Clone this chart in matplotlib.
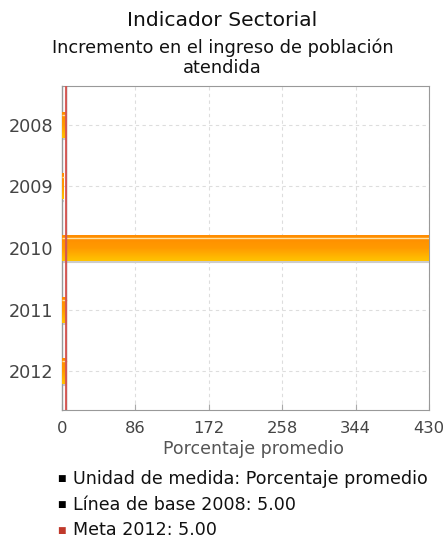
import matplotlib
matplotlib.use("Agg")
import matplotlib.pyplot as plt
import numpy as np
from matplotlib.colors import LinearSegmentedColormap

years = ["2008", "2009", "2010", "2011", "2012"]
values = [5.0, 2.0, 430.0, 5.5, 5.5]
baseline = 5.0
meta = 5.0
xticks = [0, 86, 172, 258, 344, 430]
title = "Indicador Sectorial"
subtitle = "Incremento en el ingreso de población\natendida"
xlabel = "Porcentaje promedio"
legend_items = [("Unidad de medida: Porcentaje promedio", "#000000"),
                ("Línea de base 2008: 5.00", "#000000"),
                ("Meta 2012: 5.00", "#c0392b")]

plt.rcParams['font.family'] = ['DejaVu Sans']
W, H = 445, 538
fig = plt.figure(figsize=(W/100, H/100), dpi=100)
ax = fig.add_axes([62/W, 1-410/H, (429-62)/W, (410-86)/H])

y = np.arange(len(years))
bars = ax.barh(y, values, height=0.42, color="#ffa500", edgecolor="none", zorder=3)
cmap = LinearSegmentedColormap.from_list("g", ["#ff8c00", "#ff9a00", "#ffc400"])
grad = np.linspace(0, 1, 64).reshape(-1, 1)
for b in bars:
    x0, y0 = b.get_x(), b.get_y()
    w, h = b.get_width(), b.get_height()
    im = ax.imshow(grad, cmap=cmap, aspect="auto", extent=[x0, x0 + w, y0 + h, y0],
                   zorder=3, origin="upper")
    im.set_clip_path(b)
    ax.plot([x0, x0 + w], [y0 + h*0.12, y0 + h*0.12], color="#ffe0a0", lw=1.0, zorder=4,
            solid_capstyle="butt")
    ax.plot([x0, x0 + w], [y0 + h + 0.02, y0 + h + 0.02], color="#cccccc", lw=1.5, zorder=2,
            solid_capstyle="butt")

ax.axvline(baseline, color="#888888", lw=1.0, zorder=5)
ax.axvline(meta, color="#d9534f", lw=1.5, alpha=0.9, zorder=6)

ax.set_xlim(0, 430)
ax.set_ylim(len(years) - 0.37, -0.63)
ax.set_yticks(y)
ax.set_yticklabels(years)
ax.set_xticks(xticks)
ax.tick_params(axis="y", labelsize=12.7, colors="#444444", length=0, pad=6)
ax.tick_params(axis="x", labelsize=11.8, colors="#444444", length=4, direction="in",
               pad=8, color="#aaaaaa")
ax.grid(True, color="#dddddd", linestyle=(0, (3, 3)), lw=0.8, zorder=0)
for s in ax.spines.values():
    s.set_color("#999999")
    s.set_linewidth(0.8)
ax.spines["left"].set_linewidth(1.0)
ax.set_xlabel(xlabel, fontsize=12.5, color="#555555")
ax.xaxis.set_label_coords((254-62)/(429-62), -(449-410)/(410-86))
ax.xaxis.label.set_va("center")

fig.text(0.5, 1-21/H, title, ha="center", va="center", fontsize=14.6, color="#111111")
fig.text(0.5, 1-58/H, subtitle, ha="center", va="center", fontsize=12.8, color="#111111",
         linespacing=1.15)

for i, (txt, col) in enumerate(legend_items):
    yy = 1 - (479 + i*25.5)/H
    fig.text(61/W, yy, "■", fontsize=6.5, color=col, ha="center", va="center")
    fig.text(73/W, yy, txt, fontsize=12.6, color="#111111", ha="left", va="center")

fig.savefig("out.png", dpi=100)
